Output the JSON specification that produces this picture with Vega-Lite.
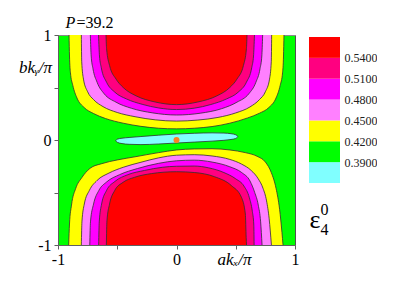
{
"$schema": "https://vega.github.io/schema/vega-lite/v6.json",
"padding": {"left": 18, "top": 14, "right": 0, "bottom": 0},
"background": "white",
"bounds": "flush",
"spacing": 14,
"config": {"font": "Liberation Serif, Times New Roman, Times, serif", "view": {"stroke": null}, "axis": {"grid": false}},
"datasets": {
"curves": [
{"lvl":"0.42","half":"top","xs":[-0.907,-0.903,-0.895,-0.875,-0.84,-0.78,-0.7,-0.6,-0.45,-0.3,-0.15,0,0.15,0.3,0.45,0.6,0.7,0.78,0.84,0.875,0.895,0.903,0.907],"ys":[1,0.8,0.64,0.52,0.4,0.31,0.252,0.205,0.16,0.13,0.112,0.106,0.112,0.128,0.16,0.21,0.255,0.31,0.4,0.52,0.64,0.8,1]},
{"lvl":"0.45","half":"top","xs":[-0.803,-0.8,-0.785,-0.75,-0.7,-0.62,-0.5,-0.35,-0.18,0,0.18,0.35,0.5,0.62,0.7,0.75,0.785,0.8,0.803],"ys":[1,0.75,0.58,0.46,0.385,0.318,0.262,0.222,0.192,0.18,0.19,0.215,0.258,0.315,0.385,0.46,0.58,0.75,1]},
{"lvl":"0.48","half":"top","xs":[-0.727,-0.72,-0.705,-0.67,-0.61,-0.51,-0.38,-0.2,0,0.2,0.38,0.51,0.61,0.67,0.705,0.72,0.727],"ys":[1,0.8,0.68,0.55,0.44,0.36,0.302,0.258,0.238,0.255,0.298,0.36,0.44,0.55,0.68,0.8,1]},
{"lvl":"0.51","half":"top","xs":[-0.658,-0.65,-0.635,-0.59,-0.52,-0.42,-0.29,-0.15,0,0.15,0.29,0.42,0.52,0.59,0.635,0.65,0.658],"ys":[1,0.8,0.69,0.55,0.455,0.39,0.34,0.305,0.29,0.303,0.338,0.39,0.455,0.55,0.69,0.8,1]},
{"lvl":"0.54","half":"top","xs":[-0.595,-0.59,-0.565,-0.51,-0.45,-0.34,-0.18,0,0.18,0.34,0.45,0.51,0.565,0.59,0.595],"ys":[1,0.87,0.71,0.58,0.5,0.42,0.362,0.337,0.362,0.42,0.5,0.58,0.71,0.87,1]},
{"lvl":"0.42","half":"bottom","xs":[-0.91,-0.903,-0.886,-0.85,-0.8,-0.73,-0.63,-0.5,-0.35,-0.15,0,0.15,0.3,0.45,0.58,0.68,0.75,0.8,0.84,0.87,0.89,0.899],"ys":[-1,-0.8,-0.62,-0.46,-0.36,-0.27,-0.225,-0.19,-0.16,-0.12,-0.095,-0.085,-0.083,-0.095,-0.12,-0.155,-0.21,-0.31,-0.46,-0.66,-0.88,-1]},
{"lvl":"0.45","half":"bottom","xs":[-0.803,-0.798,-0.778,-0.735,-0.67,-0.57,-0.45,-0.3,-0.15,0,0.15,0.3,0.45,0.55,0.63,0.69,0.73,0.76,0.782,0.801],"ys":[-1,-0.78,-0.61,-0.48,-0.385,-0.315,-0.26,-0.212,-0.17,-0.145,-0.14,-0.152,-0.185,-0.23,-0.29,-0.37,-0.46,-0.58,-0.75,-1]},
{"lvl":"0.48","half":"bottom","xs":[-0.732,-0.726,-0.7,-0.655,-0.59,-0.48,-0.33,-0.15,0,0.15,0.3,0.45,0.55,0.62,0.66,0.69,0.71,0.722],"ys":[-1,-0.78,-0.61,-0.48,-0.4,-0.33,-0.272,-0.222,-0.198,-0.192,-0.21,-0.255,-0.31,-0.39,-0.5,-0.62,-0.78,-1]},
{"lvl":"0.51","half":"bottom","xs":[-0.657,-0.652,-0.632,-0.59,-0.52,-0.41,-0.27,-0.12,0,0.15,0.27,0.4,0.5,0.57,0.615,0.64,0.652,0.655],"ys":[-1,-0.78,-0.61,-0.48,-0.395,-0.33,-0.29,-0.26,-0.25,-0.248,-0.265,-0.31,-0.37,-0.44,-0.55,-0.68,-0.8,-1]},
{"lvl":"0.54","half":"bottom","xs":[-0.592,-0.587,-0.565,-0.522,-0.451,-0.353,-0.212,0,0.154,0.322,0.463,0.548,0.581,0.588,0.591],"ys":[-1,-0.77,-0.61,-0.482,-0.403,-0.355,-0.32,-0.302,-0.31,-0.35,-0.434,-0.546,-0.705,-0.93,-1]}
],
"cyan": [
{"xs":[-0.513,-0.5,-0.46,-0.4,-0.3,-0.15,0,0.15,0.3,0.4,0.46,0.5,0.519],"ys":[-0.006,-0.022,-0.034,-0.041,-0.044,-0.038,-0.029,-0.02,-0.011,-0.003,0.005,0.014,0.032],"y2s":[-0.006,0.008,0.017,0.024,0.033,0.046,0.057,0.064,0.068,0.066,0.06,0.05,0.032]}
],
"dot": [{"x": 0, "y": 0}],
"legend": [
{"key":"e","lo":0.36,"hi":0.39},
{"key":"e","lo":0.39,"hi":0.42},
{"key":"e","lo":0.42,"hi":0.45},
{"key":"e","lo":0.45,"hi":0.48},
{"key":"e","lo":0.48,"hi":0.51},
{"key":"e","lo":0.51,"hi":0.54},
{"key":"e","lo":0.54,"hi":0.57}
]
},
"hconcat": [
{
"width": 237, "height": 210,
"view": {"fill": "#00ff00", "stroke": null},
"resolve": {"axis": {"x": "independent", "y": "independent"}},
"layer": [
{
"encoding": {
"x": {"field": "x", "type": "quantitative", "scale": {"domain": [-1, 1], "nice": false, "zero": false},
"axis": {"orient": "bottom", "values": [-1, -0.5, 0, 0.5, 1], "labelExpr": "datum.value==-1?'-1':datum.value==0?'0':datum.value==1?'1':''", "tickSize": 4, "tickColor": "#606060", "domainColor": "#606060", "labelFont": "Liberation Serif, Times New Roman, serif", "labelFontSize": 16, "labelColor": "#000", "labelPadding": 2, "labelFlush": false, "labelOverlap": false, "title": "akₓ/π", "titleFont": "Liberation Serif, Times New Roman, serif", "titleFontSize": 17, "titleFontStyle": "italic", "titleFontWeight": "normal", "titleColor": "#000", "titleX": 176, "titleY": 19, "titleAlign": "center", "titleBaseline": "alphabetic"}},
"y": {"field": "y", "type": "quantitative", "stack": null, "scale": {"domain": [-1, 1], "nice": false, "zero": false},
"axis": {"orient": "left", "values": [-1, -0.5, 0, 0.5, 1], "labelExpr": "datum.value==-1?'-1':datum.value==0?'0':datum.value==1?'1':''", "tickSize": 4, "tickColor": "#606060", "domainColor": "#606060", "labelFont": "Liberation Serif, Times New Roman, serif", "labelFontSize": 16, "labelColor": "#000", "labelPadding": 3, "labelFlush": false, "labelOverlap": false, "title": "bkᵧ/π", "titleAngle": 0, "titleFont": "Liberation Serif, Times New Roman, serif", "titleFontSize": 17, "titleFontStyle": "italic", "titleFontWeight": "normal", "titleColor": "#000", "titleX": -23, "titleY": 37, "titleAlign": "center", "titleBaseline": "alphabetic"}}
},
"layer": [
{"data": {"name": "curves"}, "transform": [{"filter": "datum.half=='top' && datum.lvl=='0.42'"}, {"flatten": ["xs", "ys"], "as": ["x", "y"]}], "mark": {"type": "area", "color": "#ffff00", "opacity": 1, "interpolate": "monotone", "clip": true}, "encoding": {"y2": {"datum": 1}}},
{"data": {"name": "curves"}, "transform": [{"filter": "datum.half=='bottom' && datum.lvl=='0.42'"}, {"flatten": ["xs", "ys"], "as": ["x", "y"]}], "mark": {"type": "area", "color": "#ffff00", "opacity": 1, "interpolate": "monotone", "clip": true}, "encoding": {"y2": {"datum": -1}}},
{"data": {"name": "curves"}, "transform": [{"filter": "datum.half=='top' && datum.lvl=='0.45'"}, {"flatten": ["xs", "ys"], "as": ["x", "y"]}], "mark": {"type": "area", "color": "#ff80ff", "opacity": 1, "interpolate": "monotone", "clip": true}, "encoding": {"y2": {"datum": 1}}},
{"data": {"name": "curves"}, "transform": [{"filter": "datum.half=='bottom' && datum.lvl=='0.45'"}, {"flatten": ["xs", "ys"], "as": ["x", "y"]}], "mark": {"type": "area", "color": "#ff80ff", "opacity": 1, "interpolate": "monotone", "clip": true}, "encoding": {"y2": {"datum": -1}}},
{"data": {"name": "curves"}, "transform": [{"filter": "datum.half=='top' && datum.lvl=='0.48'"}, {"flatten": ["xs", "ys"], "as": ["x", "y"]}], "mark": {"type": "area", "color": "#ff00ff", "opacity": 1, "interpolate": "monotone", "clip": true}, "encoding": {"y2": {"datum": 1}}},
{"data": {"name": "curves"}, "transform": [{"filter": "datum.half=='bottom' && datum.lvl=='0.48'"}, {"flatten": ["xs", "ys"], "as": ["x", "y"]}], "mark": {"type": "area", "color": "#ff00ff", "opacity": 1, "interpolate": "monotone", "clip": true}, "encoding": {"y2": {"datum": -1}}},
{"data": {"name": "curves"}, "transform": [{"filter": "datum.half=='top' && datum.lvl=='0.51'"}, {"flatten": ["xs", "ys"], "as": ["x", "y"]}], "mark": {"type": "area", "color": "#ff0080", "opacity": 1, "interpolate": "monotone", "clip": true}, "encoding": {"y2": {"datum": 1}}},
{"data": {"name": "curves"}, "transform": [{"filter": "datum.half=='bottom' && datum.lvl=='0.51'"}, {"flatten": ["xs", "ys"], "as": ["x", "y"]}], "mark": {"type": "area", "color": "#ff0080", "opacity": 1, "interpolate": "monotone", "clip": true}, "encoding": {"y2": {"datum": -1}}},
{"data": {"name": "curves"}, "transform": [{"filter": "datum.half=='top' && datum.lvl=='0.54'"}, {"flatten": ["xs", "ys"], "as": ["x", "y"]}], "mark": {"type": "area", "color": "#ff0000", "opacity": 1, "interpolate": "monotone", "clip": true}, "encoding": {"y2": {"datum": 1}}},
{"data": {"name": "curves"}, "transform": [{"filter": "datum.half=='bottom' && datum.lvl=='0.54'"}, {"flatten": ["xs", "ys"], "as": ["x", "y"]}], "mark": {"type": "area", "color": "#ff0000", "opacity": 1, "interpolate": "monotone", "clip": true}, "encoding": {"y2": {"datum": -1}}},
{"data": {"name": "curves"}, "transform": [{"flatten": ["xs", "ys"], "as": ["x", "y"]}], "mark": {"type": "line", "color": "#303030", "strokeWidth": 0.8, "interpolate": "monotone", "clip": true}, "encoding": {"detail": [{"field": "lvl"}, {"field": "half"}]}},
{"data": {"name": "cyan"}, "transform": [{"flatten": ["xs", "ys", "y2s"], "as": ["x", "y", "y2"]}], "mark": {"type": "area", "color": "#80ffff", "opacity": 1, "stroke": "#303030", "strokeWidth": 0.8, "interpolate": "monotone", "clip": true}, "encoding": {"y2": {"field": "y2"}}}
]
},
{
"data": {"name": "dot"},
"mark": {"type": "point", "filled": true, "color": "#ff8020", "opacity": 1, "size": 36},
"encoding": {
"x": {"field": "x", "type": "quantitative", "scale": {"domain": [-1, 1], "nice": false, "zero": false},
"axis": {"orient": "top", "ticks": false, "labels": false, "domainColor": "#8a8a8a", "title": "=39.2", "titleFont": "Liberation Serif, Times New Roman, serif", "titleFontSize": 16, "titleFontWeight": "normal", "titleColor": "#000", "titleX": 18, "titleY": -8, "titleAlign": "left", "titleBaseline": "alphabetic"}},
"y": {"field": "y", "type": "quantitative", "scale": {"domain": [-1, 1], "nice": false, "zero": false},
"axis": {"orient": "right", "ticks": false, "labels": false, "domainColor": "#505050", "title": "P", "titleAngle": 0, "titleFont": "Liberation Serif, Times New Roman, serif", "titleFontSize": 16, "titleFontStyle": "italic", "titleFontWeight": "normal", "titleColor": "#000", "titleX": -230, "titleY": -8, "titleAlign": "left", "titleBaseline": "alphabetic"}}
}
}
]
},
{
"width": 31, "height": 148,
"data": {"name": "legend"},
"resolve": {"axis": {"x": "independent", "y": "independent"}},
"encoding": {
"y2": {"field": "hi"},
"color": {"field": "lo", "type": "ordinal", "scale": {"domain": [0.36, 0.39, 0.42, 0.45, 0.48, 0.51, 0.54], "range": ["#80ffff", "#00ff00", "#ffff00", "#ff80ff", "#ff00ff", "#ff0080", "#ff0000"]}, "legend": null}
},
"layer": [
{
"mark": {"type": "rect", "opacity": 1},
"encoding": {
"x": {"field": "key", "type": "nominal", "scale": {"paddingInner": 0, "paddingOuter": 0},
"axis": {"orient": "bottom", "labels": false, "ticks": false, "domain": false, "title": "ε", "titleFont": "Liberation Serif, Times New Roman, serif", "titleFontSize": 26, "titleFontWeight": "normal", "titleColor": "#000", "titleX": 0, "titleY": 44, "titleAlign": "left", "titleBaseline": "alphabetic"}},
"y": {"field": "lo", "type": "quantitative", "scale": {"domain": [0.36, 0.57288], "nice": false, "zero": false},
"axis": {"orient": "right", "values": [0.39, 0.42, 0.45, 0.48, 0.51, 0.54], "format": ".4f", "ticks": false, "domain": false, "title": null, "labelFont": "Liberation Serif, Times New Roman, serif", "labelFontSize": 12, "labelColor": "#222", "labelPadding": 4}}
}
},
{
"mark": {"type": "rect", "opacity": 0},
"encoding": {
"x": {"field": "key", "type": "nominal", "scale": {"paddingInner": 0, "paddingOuter": 0},
"axis": {"orient": "top", "labels": false, "ticks": false, "domain": false, "title": "0", "titleFont": "Liberation Serif, Times New Roman, serif", "titleFontSize": 16, "titleFontWeight": "normal", "titleColor": "#000", "titleX": 11, "titleY": 179, "titleAlign": "left", "titleBaseline": "alphabetic"}},
"y": {"field": "lo", "type": "quantitative", "scale": {"domain": [0.36, 0.57288], "nice": false, "zero": false},
"axis": {"orient": "left", "labels": false, "ticks": false, "domain": false, "title": "4", "titleAngle": 0, "titleFont": "Liberation Serif, Times New Roman, serif", "titleFontSize": 16, "titleFontWeight": "normal", "titleColor": "#000", "titleX": 11, "titleY": 199, "titleAlign": "left", "titleBaseline": "alphabetic"}}
}
}
]
}
]
}
